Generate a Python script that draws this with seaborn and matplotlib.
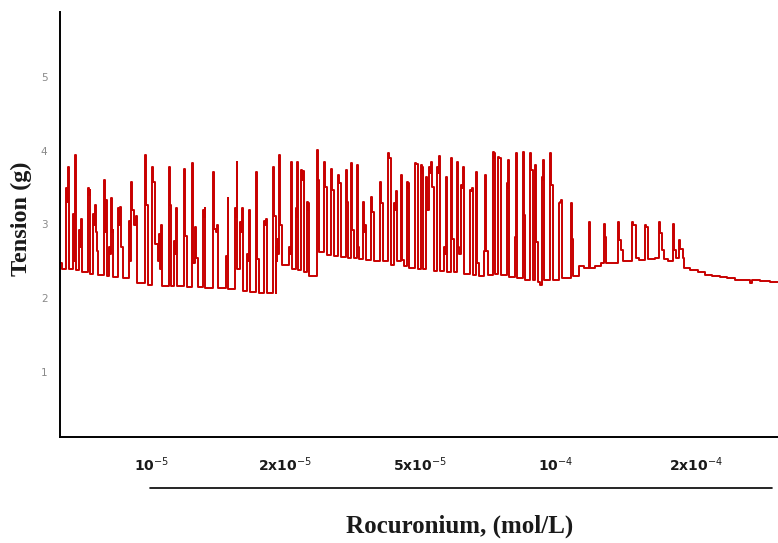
import numpy as np
import pandas as pd
import seaborn as sns
import matplotlib.pyplot as plt

# isometric tension trace, time axis in recording units (0 .. 718)
start_level = 2.47
end_t = 718

# time of each contraction, its peak tension (g) and the level right after it (g)
spike_t = [2, 6, 8, 13, 15, 19, 21, 28, 29.5, 33, 35, 37, 44, 46, 49, 51, 52.5, 58, 60, 62,
           69, 71, 73, 76, 85, 87, 92, 94, 97, 99, 101, 109, 110.5, 114, 116, 124, 126, 132, 135, 137,
           143, 144.5, 153, 155, 157, 166, 167.5, 175, 176.5, 180, 182, 187, 189, 196, 198, 204, 206,
           213, 215, 216, 217, 219, 221, 229, 231, 236, 237, 241, 243, 247, 248,
           257, 258, 264, 266, 271, 273, 278, 280, 286, 287, 291, 293, 297, 298, 303, 305, 311, 313,
           320, 322, 328, 330, 334, 336, 341, 343, 347, 348, 355, 357, 361, 362, 366, 369, 371, 373,
           377, 379, 384, 386, 391, 393, 397, 398, 401, 403, 410, 412, 416, 418,
           424, 425, 427, 433, 434, 438, 440, 447, 448, 455, 456, 463, 464, 470, 472, 475, 477, 480,
           482, 483, 490, 492, 499, 501, 511, 512, 519, 524,
           529, 535, 541, 544, 545, 552, 558, 560, 562, 572, 575, 579, 585, 587, 595, 599, 601, 603,
           608, 613, 615, 619, 622,
           624, 630, 638, 645, 652, 660, 667, 675, 685, 690, 692, 700, 710]
spike_peak = [2.40, 3.49, 3.78, 3.14, 3.95, 2.92, 3.07, 3.49, 3.47, 3.14, 3.26, 2.64, 3.60, 3.33, 2.70, 3.36, 2.92, 3.22, 3.24, 2.69,
              3.05, 3.58, 3.20, 3.11, 3.95, 3.27, 3.78, 3.58, 2.74, 2.87, 3.00, 3.78, 3.27, 2.78, 3.22, 3.76, 2.85, 3.83, 2.96, 2.55,
              3.20, 3.22, 3.71, 2.94, 3.00, 2.57, 3.36, 3.22, 3.85, 3.04, 3.22, 2.60, 3.20, 3.71, 2.53, 3.05, 3.07,
              3.78, 3.11, 2.69, 2.80, 3.95, 2.99, 2.69, 3.85, 3.22, 3.85, 3.74, 3.73, 3.31, 3.29,
              4.01, 3.60, 3.85, 3.51, 3.76, 3.47, 3.67, 3.56, 3.74, 3.31, 3.83, 2.92, 3.81, 2.69, 3.31, 3.00, 3.38, 3.17,
              3.58, 3.29, 3.97, 3.90, 3.29, 3.45, 3.68, 2.52, 3.58, 3.56, 3.83, 3.82, 3.81, 3.78, 3.64, 3.78, 3.85, 3.51,
              3.78, 3.93, 2.69, 3.64, 3.91, 2.80, 3.85, 2.69, 3.54, 3.78, 3.47, 3.49, 3.71, 2.47,
              2.64, 3.67, 2.64, 3.99, 3.97, 3.92, 3.90, 3.56, 3.88, 2.83, 3.97, 3.99, 3.13, 3.97, 3.74, 3.81, 2.76, 2.18,
              3.64, 3.88, 3.97, 3.54, 3.29, 3.33, 3.29, 2.80, 2.43, 2.41,
              3.03, 2.44, 2.48, 3.01, 2.83, 2.48, 3.03, 2.79, 2.65, 3.03, 2.99, 2.52, 2.99, 2.97, 2.55, 3.04, 2.88, 2.65,
              2.50, 3.01, 2.65, 2.79, 2.67,
              2.41, 2.38, 2.35, 2.32, 2.30, 2.28, 2.27, 2.25, 2.24, 2.20, 2.24, 2.23, 2.22]
spike_floor = [2.40, 3.30, 2.40, 2.50, 2.38, 2.70, 2.35, 3.40, 2.33, 3.00, 2.90, 2.32, 2.90, 2.30, 2.60, 2.90, 2.29, 3.00, 2.69, 2.27,
               2.50, 3.20, 3.00, 2.20, 3.27, 2.18, 3.58, 2.74, 2.50, 2.40, 2.16, 3.27, 2.16, 2.60, 2.16, 2.85, 2.15, 2.48, 2.55, 2.15,
               3.10, 2.14, 2.94, 2.90, 2.14, 2.40, 2.12, 3.10, 2.40, 2.90, 2.10, 2.50, 2.08, 2.53, 2.07, 3.00, 2.07,
               3.11, 2.07, 2.50, 2.60, 2.99, 2.45, 2.60, 2.40, 3.10, 2.38, 3.60, 2.35, 3.20, 2.30,
               3.60, 2.62, 3.51, 2.58, 3.47, 2.57, 3.56, 2.56, 3.31, 2.55, 2.92, 2.54, 2.69, 2.53, 2.90, 2.52, 3.17, 2.50,
               3.29, 2.50, 3.90, 2.45, 3.20, 2.50, 2.52, 2.44, 3.50, 2.41, 3.82, 2.40, 3.70, 2.40, 3.20, 3.70, 3.51, 2.37,
               3.70, 2.37, 2.60, 2.35, 2.80, 2.35, 2.69, 2.60, 3.50, 2.33, 3.45, 2.32, 2.47, 2.30,
               2.64, 2.64, 2.32, 3.90, 2.33, 3.90, 2.32, 3.50, 2.28, 2.83, 2.27, 3.13, 2.25, 3.74, 2.25, 2.76, 2.22, 2.18,
               3.60, 2.25, 3.54, 2.25, 3.30, 2.27, 2.80, 2.30, 2.43, 2.41,
               2.41, 2.44, 2.48, 2.83, 2.47, 2.48, 2.79, 2.65, 2.50, 2.99, 2.55, 2.52, 2.97, 2.53, 2.55, 2.88, 2.65, 2.53,
               2.50, 2.65, 2.55, 2.67, 2.55,
               2.41, 2.38, 2.35, 2.32, 2.30, 2.28, 2.27, 2.25, 2.24, 2.20, 2.24, 2.23, 2.22]

tick_t = [9, 143, 275, 407, 540, 673]
dose_t = [92, 225, 360, 496, 636]
dose_labels = [r"10$^{-5}$", r"2x10$^{-5}$", r"5x10$^{-5}$", r"10$^{-4}$", r"2x10$^{-4}$"]
y_ticks = [1, 2, 3, 4, 5]

# build the stepped trace (each contraction is a narrow pulse)
xs, ys = [0.0], [start_level]
level = start_level
for t, p, f in zip(spike_t, spike_peak, spike_floor):
    xs += [t, t, t + 0.6, t + 0.6]
    ys += [level, p, p, f]
    level = f
xs.append(end_t)
ys.append(level)
trace = pd.DataFrame({"t": xs, "g": ys})

sns.set_style("white")
fig = plt.figure(figsize=(7.78, 5.43), dpi=100)
ax = fig.add_axes([60 / 778, 1 - 437 / 543, 718 / 778, 425 / 543])

sns.lineplot(data=trace, x="t", y="g", sort=False, estimator=None,
             color="#c80000", linewidth=1.4, ax=ax)

ax.set_xlim(0, end_t)
ax.set_ylim(0.11, 5.89)
sns.despine(ax=ax)
for side in ["left", "bottom"]:
    ax.spines[side].set_color("black")
    ax.spines[side].set_linewidth(1.4)

ax.set_yticks(y_ticks)
ax.set_yticklabels([str(v) for v in y_ticks], color="#8a8a8a", fontsize=7.5)
ax.tick_params(axis="y", length=0, pad=9)

ax.set_xticks(tick_t)
ax.set_xticklabels([])
ax.tick_params(axis="x", which="major", direction="out", length=4, width=1, color="#444444")
ax.set_xticks(dose_t, minor=True)
ax.set_xticklabels(dose_labels, minor=True, fontsize=10, fontweight="bold", color="#1a1a1a")
ax.tick_params(axis="x", which="minor", length=0, pad=13)

ax.set_xlabel("")
ax.set_ylabel("")

# bar under the dose labels
ax.plot([0.125, 0.992], [-0.12, -0.12], transform=ax.transAxes, clip_on=False,
        color="black", linewidth=1.2)

fig.text(0.591, 0.03, "Rocuronium, (mol/L)", ha="center", va="center",
         fontsize=18, fontweight="bold", family="Liberation Serif", color="#1a1a1a")
fig.text(0.028, 0.598, "Tension (g)", ha="center", va="center", rotation=90,
         fontsize=17.5, fontweight="bold", family="Liberation Serif", color="#1a1a1a")

fig.savefig("out.png", dpi=100)
